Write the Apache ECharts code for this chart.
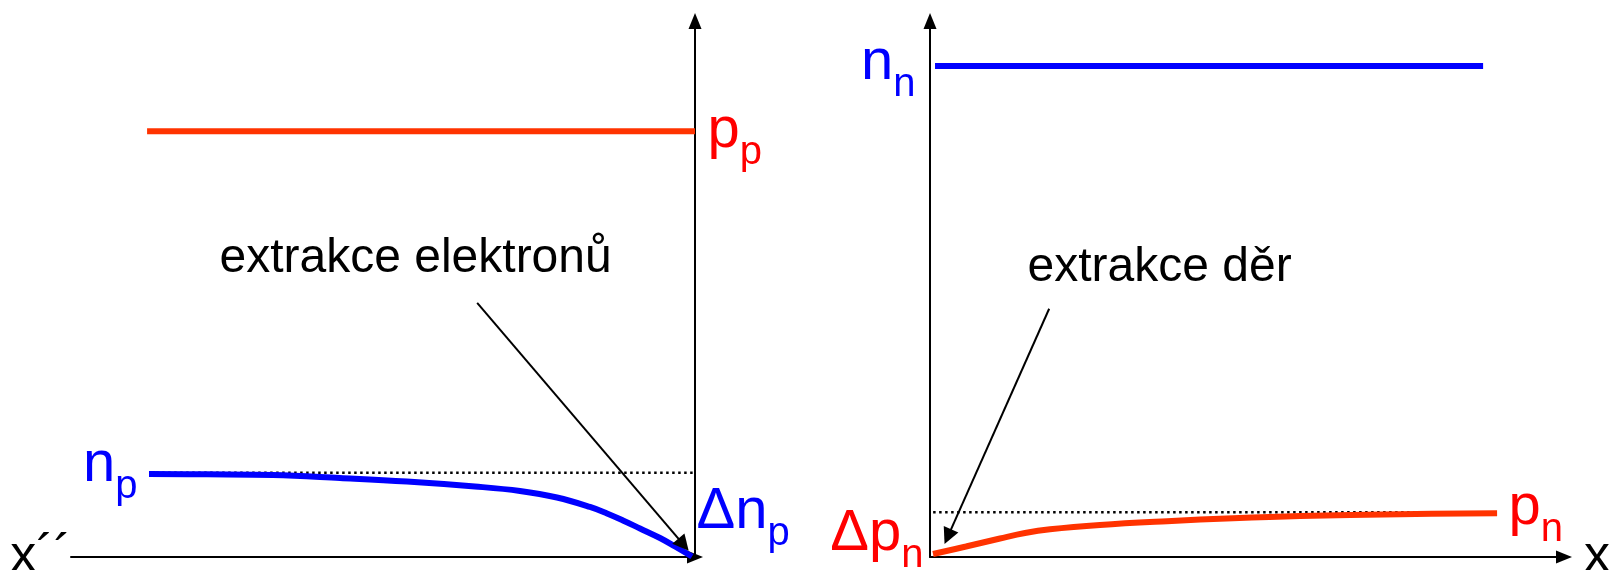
<!DOCTYPE html>
<html>
<head>
<meta charset="utf-8">
<script src="https://cdn.jsdelivr.net/npm/echarts@6/dist/echarts.min.js"></script>
<style>
  html, body { margin: 0; padding: 0; background: #fff; }
  #chart { width: 1617px; height: 570px; }
</style>
</head>
<body>
<div id="chart"></div>
<script>
const FONT = 'Liberation Sans, Arial, sans-serif'
const RED_LINE = '#ff3300'
const RED_TEXT = '#ff0000'
const BLUE = '#0000ff'

// p side (x´´ runs to the left of the junction)
const ppLevel = 79.6
const ppX = [88.8, 0]
const npLevel = 15.76
const npDotX = [88.3, 0]
const npCurveX = [88.49, 79.09, 68.40, 57.54, 46.68, 35.66, 28.36, 22.37, 17.02, 14.26, 11.67, 8.91, 5.67, 3.24, 0.49]
const npCurveY = [15.51, 15.46, 15.33, 14.77, 14.11, 13.18, 12.34, 11.12, 9.35, 8.13, 6.82, 5.33, 3.55, 1.96, 0.09]
const electronsArrow = [[35.3, 47.5], [1.86, 2.30]]
const electronsText = [45.2, 55.7]

// n side
const nnLevel = 91.78
const nnX = [0.8, 88.2]
const pnLevel = 8.36
const pnDotX = [0.5, 89]
const pnCurveX = [0.48, 5.74, 11.16, 15.15, 19.14, 27.11, 37.80, 48.33, 59.01, 74.96, 90.43]
const pnCurveY = [0.56, 1.96, 3.46, 4.49, 5.18, 5.98, 6.69, 7.25, 7.66, 8.00, 8.17]
const holesArrow = [[19.0, 46.4], [2.84, 3.81]]
const holesText = [36.7, 54.0]

function pairs(xs, ys) {
  return xs.map((x, i) => [x, ys[i]])
}

function level(xs, y) {
  return xs.map(x => [x, y])
}

// label with subscript, e.g. n_p
function tag(coord, main, low, color, dx, dy, align) {
  return {
    coord: coord,
    symbol: 'circle',
    symbolSize: 1,
    itemStyle: { color: 'rgba(0,0,0,0)' },
    label: {
      show: true,
      position: [dx, dy + 12],
      align: align,
      verticalAlign: 'middle',
      formatter: '{m|' + main + '}{s|' + low + '}',
      rich: {
        m: { fontSize: 58, lineHeight: 58, verticalAlign: 'top', fontFamily: FONT, color: color },
        s: { fontSize: 40, lineHeight: 71, verticalAlign: 'bottom', fontFamily: FONT, color: color }
      }
    }
  }
}

function note(coord, text) {
  return {
    coord: coord,
    symbol: 'circle',
    symbolSize: 1,
    itemStyle: { color: 'rgba(0,0,0,0)' },
    label: {
      show: true,
      position: [0, 0],
      align: 'center',
      verticalAlign: 'middle',
      formatter: text,
      fontSize: 48,
      fontFamily: FONT,
      color: '#000'
    }
  }
}

function arrow(seg) {
  return {
    silent: true,
    symbol: ['none', 'triangle'],
    symbolSize: 16,
    label: { show: false },
    lineStyle: { color: '#000', width: 2, type: 'solid' },
    data: [[{ coord: seg[0] }, { coord: seg[1] }]]
  }
}

const axisBase = {
  type: 'value',
  min: 0,
  splitLine: { show: false },
  axisTick: { show: false },
  axisLabel: { show: false }
}

const axisArrow = {
  show: true,
  onZero: false,
  symbol: ['none', 'triangle'],
  symbolSize: [13, 16],
  lineStyle: { color: '#000', width: 2 }
}

const chart = echarts.init(document.getElementById('chart'))

chart.setOption({
  animation: false,
  backgroundColor: '#fff',
  grid: [
    { left: 71, right: 922, top: 21, bottom: 13, containLabel: false, outerBoundsMode: 'none' },
    { left: 930, right: 53, top: 21, bottom: 13, containLabel: false, outerBoundsMode: 'none' }
  ],
  xAxis: [
    {
      ...axisBase,
      max: 101.13,
      gridIndex: 0,
      inverse: true,
      axisLine: axisArrow,
      name: 'x´´',
      nameLocation: 'end',
      nameGap: 0,
      nameTextStyle: { fontSize: 52, fontFamily: FONT, color: '#000', padding: [0, 0, 16, 0] }
    },
    {
      ...axisBase,
      max: 101.1,
      gridIndex: 1,
      axisLine: axisArrow,
      name: 'x',
      nameLocation: 'end',
      nameGap: 20,
      nameTextStyle: { fontSize: 52, fontFamily: FONT, color: '#000', padding: [0, 0, 16, 0] }
    }
  ],
  yAxis: [
    { ...axisBase, max: 100.19, gridIndex: 0, position: 'right', axisLine: axisArrow },
    { ...axisBase, max: 100.19, gridIndex: 1, position: 'left', axisLine: axisArrow }
  ],
  series: [
    {
      type: 'line',
      xAxisIndex: 0,
      yAxisIndex: 0,
      data: level(ppX, ppLevel),
      showSymbol: false,
      lineStyle: { color: RED_LINE, width: 6 },
      markPoint: { data: [tag([0, ppLevel], 'p', 'p', RED_TEXT, 13, -5, 'left')] }
    },
    {
      type: 'line',
      xAxisIndex: 0,
      yAxisIndex: 0,
      data: level(npDotX, npLevel),
      showSymbol: false,
      lineStyle: { color: '#000', width: 2.5, type: [2.5, 3.5] }
    },
    {
      type: 'line',
      xAxisIndex: 0,
      yAxisIndex: 0,
      data: pairs(npCurveX, npCurveY),
      smooth: 0.4,
      showSymbol: false,
      lineStyle: { color: BLUE, width: 6 },
      markPoint: {
        data: [
          tag([npCurveX[0], npCurveY[0]], 'n', 'p', BLUE, -11, -14, 'right'),
          tag([0, 0], 'Δn', 'p', BLUE, 2, -50, 'left'),
          note(electronsText, 'extrakce elektronů')
        ]
      },
      markLine: arrow(electronsArrow)
    },
    {
      type: 'line',
      xAxisIndex: 1,
      yAxisIndex: 1,
      data: level(nnX, nnLevel),
      showSymbol: false,
      lineStyle: { color: BLUE, width: 6 },
      markPoint: { data: [tag([nnX[0], nnLevel], 'n', 'n', BLUE, -19, -8, 'right')] }
    },
    {
      type: 'line',
      xAxisIndex: 1,
      yAxisIndex: 1,
      data: level(pnDotX, pnLevel),
      showSymbol: false,
      lineStyle: { color: '#000', width: 2.5, type: [2.5, 3.5] }
    },
    {
      type: 'line',
      xAxisIndex: 1,
      yAxisIndex: 1,
      data: pairs(pnCurveX, pnCurveY),
      smooth: 0.4,
      showSymbol: false,
      lineStyle: { color: RED_LINE, width: 6 },
      markPoint: {
        data: [
          tag([pnCurveX[pnCurveX.length - 1], pnCurveY[pnCurveY.length - 1]], 'p', 'n', RED_TEXT, 12, -10, 'left'),
          tag([0, 0], 'Δp', 'n', RED_TEXT, -6, -28, 'right'),
          note(holesText, 'extrakce děr')
        ]
      },
      markLine: arrow(holesArrow)
    }
  ]
})
</script>
</body>
</html>
